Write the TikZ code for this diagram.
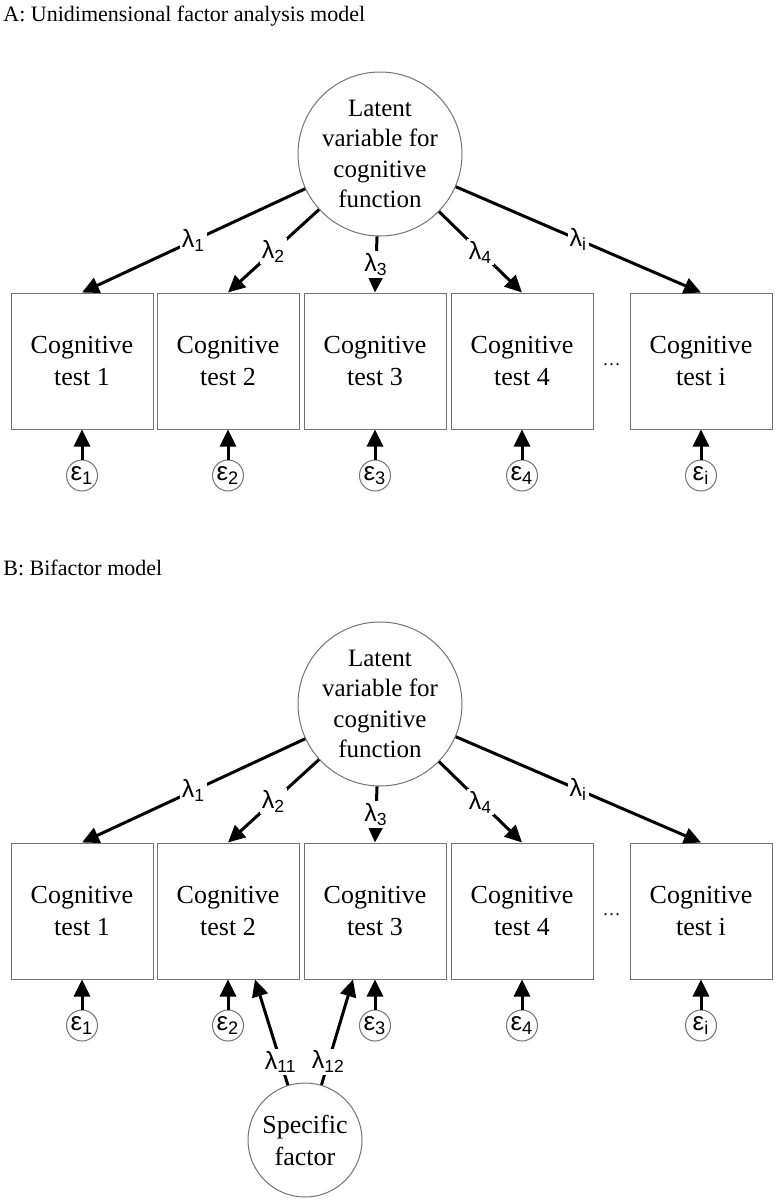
\documentclass[tikz,border=0pt]{standalone}
\usepackage{fontspec}
\setmainfont{Liberation Serif}
\newfontfamily\grkfont{Liberation Sans}
\usetikzlibrary{positioning, calc, arrows.meta}

\begin{document}
\begin{tikzpicture}[x=0.5pt, y=-0.5pt,
	LatNode/.style={circle, draw=black!55, line width=0.5pt, minimum size=82pt, inner sep=0pt, align=center, font=\fontsize{12.5}{15.3}\selectfont},
	TestBox/.style={rectangle, draw=black!55, line width=0.5pt, minimum width=71pt, minimum height=68pt, align=center, font=\fontsize{13}{16}\selectfont},
	ErrNode/.style={circle, draw=black!55, line width=0.5pt, minimum size=15.5pt, inner sep=0pt, font=\grkfont\fontsize{13}{14}\selectfont},
	Load/.style={line width=1.5pt, -{Triangle[length=8.5pt, width=8pt]}},
	LoadLab/.style={fill=white, inner sep=1pt, font=\grkfont\fontsize{12.5}{14}\selectfont}]

	\useasboundingbox (0,0) rectangle (780,1201);

	\foreach \p/\dy/\ty/\ttl in {A/0/21/{A: Unidimensional factor analysis model}, B/550/575/{B: Bifactor model}} {
		\node[anchor=base west, inner sep=0pt, font=\fontsize{11}{13}\selectfont] (\p-title) at (3,\ty) {\ttl};
		\node[LatNode] (\p-lat) at (380,154+\dy) {Latent\\variable for\\cognitive\\function};

		\foreach \k/\x in {1/82, 2/228, 3/375, 4/522, i/701} {
			\node[TestBox] (\p-T\k) at (\x,361+\dy) {Cognitive\\test \k};
			\node[ErrNode, below=15pt of \p-T\k] (\p-e\k) {ε\textsubscript{\k}};
			\draw[Load] (\p-lat) -- (\p-T\k.north) node[midway, LoadLab] {λ\textsubscript{\k}};
			\draw[Load] (\p-e\k) -- (\p-T\k);
		}

		\node[font=\fontsize{9}{10}\selectfont, yshift=-2pt] (\p-dots) at ($(\p-T4.east)!0.5!(\p-Ti.west)$) {\ldots};
	}

	% specific factor of the bifactor model
	\node[LatNode, minimum size=57pt, font=\fontsize{13}{16}\selectfont] (SF) at (305,1140) {Specific\\factor};
	\draw[Load] (SF) -- ($(B-T2.south)+(27,0)$) node[pos=0.22, LoadLab] {λ\textsubscript{11}};
	\draw[Load] (SF) -- ($(B-T3.south)+(-22,0)$) node[pos=0.22, LoadLab] {λ\textsubscript{12}};
\end{tikzpicture}
\end{document}
